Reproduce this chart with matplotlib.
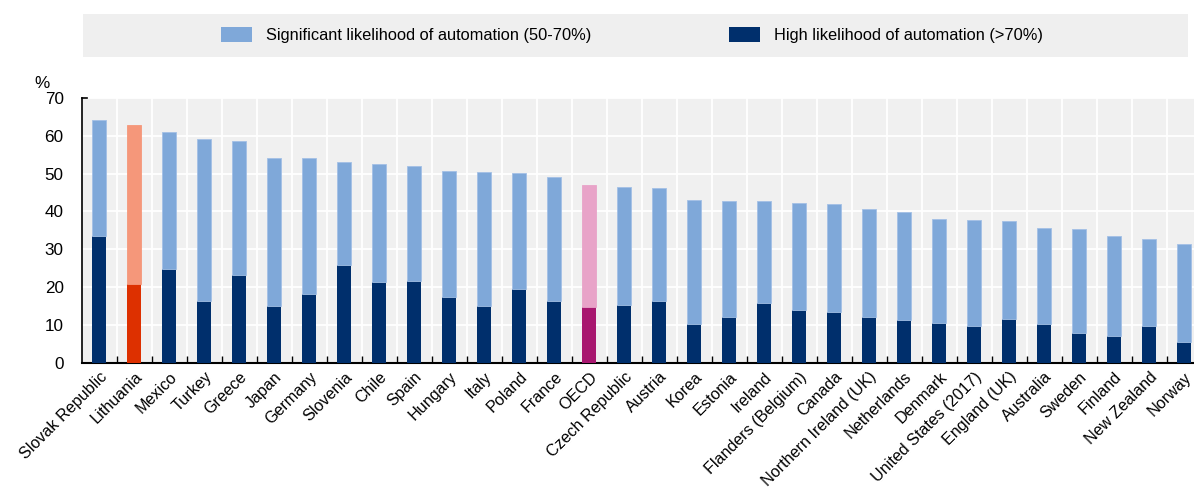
import matplotlib
matplotlib.use("Agg")
import matplotlib.pyplot as plt
from matplotlib.patches import Rectangle, Patch
import numpy as np

plt.rcParams['font.family'] = ['Liberation Sans Narrow', 'Liberation Sans', 'DejaVu Sans']

countries = ["Slovak Republic", "Lithuania", "Mexico", "Turkey", "Greece", "Japan", "Germany",
             "Slovenia", "Chile", "Spain", "Hungary", "Italy", "Poland", "France", "OECD",
             "Czech Republic", "Austria", "Korea", "Estonia", "Ireland", "Flanders (Belgium)",
             "Canada", "Northern Ireland (UK)", "Netherlands", "Denmark", "United States (2017)",
             "England (UK)", "Australia", "Sweden", "Finland", "New Zealand", "Norway"]
# total share at risk (high + significant), and high share
total = [64.2, 62.8, 60.9, 59.2, 58.5, 54.2, 54.0, 53.0, 52.6, 51.9, 50.7, 50.4, 50.2, 49.0, 47.0,
         46.5, 46.1, 43.0, 42.8, 42.7, 42.3, 42.0, 40.6, 39.9, 38.1, 37.6, 37.5, 35.6, 35.3, 33.4,
         32.6, 31.4]
high = [33.5, 20.8, 24.8, 16.4, 23.2, 15.0, 18.2, 25.8, 21.4, 21.6, 17.5, 15.0, 19.5, 16.3, 14.8,
        15.3, 16.4, 10.3, 12.1, 15.8, 13.9, 13.4, 12.2, 11.3, 10.6, 9.8, 11.6, 10.4, 7.9, 7.1,
        9.8, 5.5]
significant = [t - h for t, h in zip(total, high)]

legend_labels = ["Significant likelihood of automation (50-70%)", "High likelihood of automation (>70%)"]

LIGHT, DARK = "#7FA8D9", "#002F6C"
hl_light = {"Lithuania": "#F5977A", "OECD": "#E8A3C8"}
hl_dark = {"Lithuania": "#DD3000", "OECD": "#A8176F"}

light_cols = [hl_light.get(c, LIGHT) for c in countries]
dark_cols = [hl_dark.get(c, DARK) for c in countries]
light_edges = [hl_light.get(c, "#A3C0E6") for c in countries]

FS = 11.8

fig = plt.figure(figsize=(11.94, 4.88), dpi=100)
ax = fig.add_axes([81.7 / 1194, 125 / 488, 35 * 32 / 1194, 265.3 / 488])
ax.set_facecolor("#F0F0F0")

x = np.arange(len(countries))
w = 0.41
ax.bar(x, high, w, color=dark_cols, zorder=3, linewidth=0)
ax.bar(x, significant, w, bottom=high, color=light_cols, edgecolor=light_edges, linewidth=0.6, zorder=3)

ax.set_xlim(-0.5, len(countries) - 0.5)
ax.set_ylim(0, 70)
ax.set_yticks(np.arange(0, 71, 10))
ax.tick_params(axis='y', length=0, pad=13, labelsize=FS + 0.5)

ax.set_xticks(x)
ax.set_xticklabels(countries, rotation=45, ha='right', va='top', rotation_mode='anchor', fontsize=11.6)
ax.tick_params(axis='x', which='major', length=0, pad=4.5)
ax.set_xticks(np.arange(-0.5, len(countries), 1)[1:], minor=True)
ax.tick_params(axis='x', which='minor', direction='in', length=5, width=1, color='black')

ax.grid(True, axis='y', which='major', color='white', linewidth=1.3, zorder=0)
ax.grid(True, axis='x', which='minor', color='white', linewidth=1.3, zorder=0)
ax.grid(False, axis='x', which='major')
ax.set_axisbelow(True)

for s in ['top', 'right']:
    ax.spines[s].set_visible(False)
ax.spines['bottom'].set_linewidth(1.5)
ax.spines['left'].set_linewidth(1.2)
ax.plot([0, 0.005], [1, 1], transform=ax.transAxes, color='black', lw=1.2, clip_on=False)

fig.text(34 / 1194, 1 - 83 / 488, "%", fontsize=FS + 0.5, ha='left', va='center')

fig.patches.append(Rectangle((83 / 1194, 1 - 57 / 488), (1188 - 83) / 1194, 43.5 / 488,
                             transform=fig.transFigure, facecolor="#EFEFEF", edgecolor='none', zorder=0))
handles = [Patch(facecolor=LIGHT), Patch(facecolor=DARK)]
fig.legend(handles, legend_labels, ncol=2, frameon=False, loc='center left',
           bbox_to_anchor=(221 / 1194, 1 - 35 / 488), borderpad=0, borderaxespad=0,
           fontsize=FS, handlelength=1.9, handleheight=1.0, handletextpad=0.86,
           columnspacing=8.4)

fig.savefig("out.png", dpi=100)
